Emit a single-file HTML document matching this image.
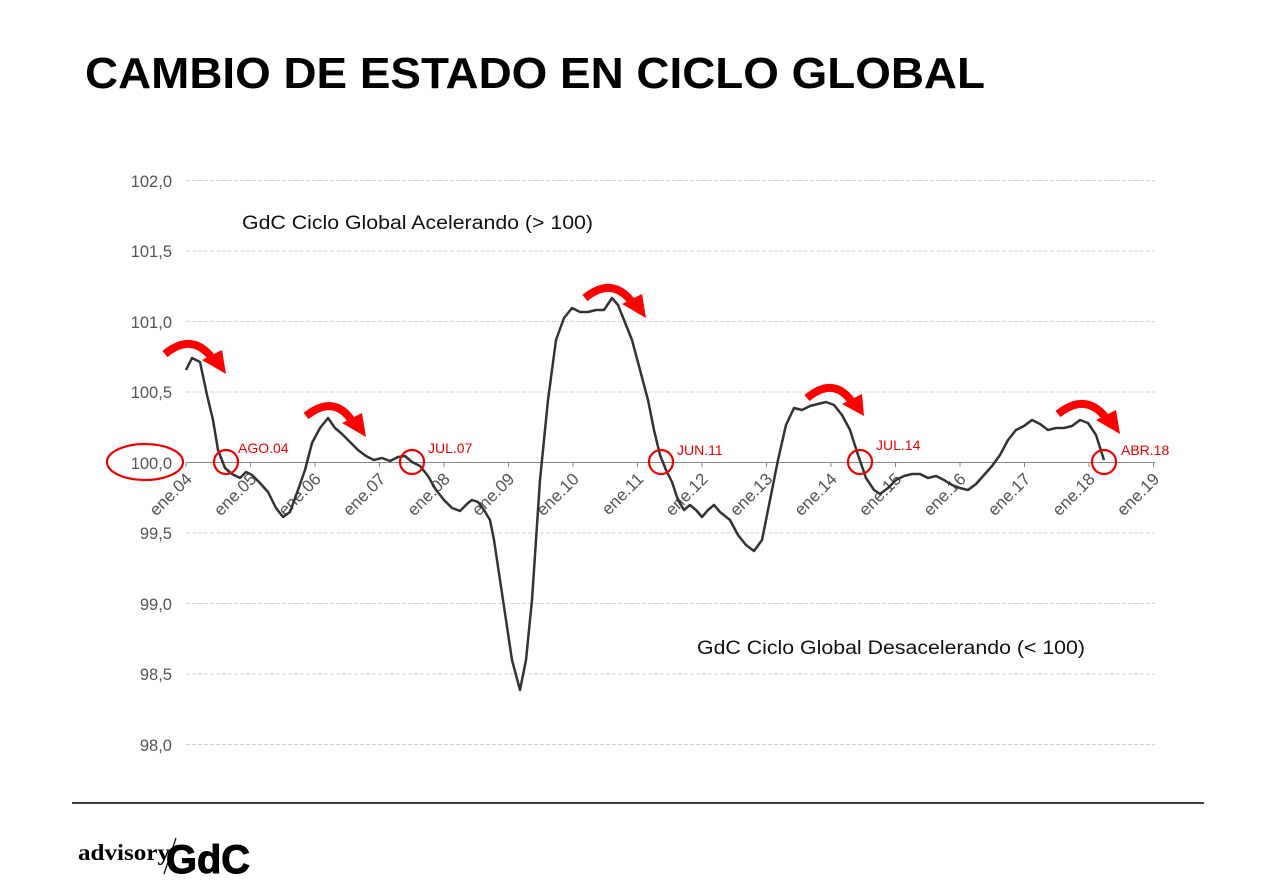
<!DOCTYPE html>
<html><head><meta charset="utf-8"><style>body{margin:0;background:#fff}svg{display:block}</style></head>
<body>
<svg width="1270" height="895" viewBox="0 0 1270 895" xmlns="http://www.w3.org/2000/svg" font-family="Liberation Sans, sans-serif">
<rect width="1270" height="895" fill="#fff"/>
<text x="85" y="88" font-size="44" font-weight="bold" textLength="900" lengthAdjust="spacingAndGlyphs">CAMBIO DE ESTADO EN CICLO GLOBAL</text>
<g stroke="#d4d4d4" stroke-width="1" stroke-dasharray="4,2">
<line x1="186" y1="180.5" x2="1155" y2="180.5"/><line x1="186" y1="251" x2="1155" y2="251"/>
<line x1="186" y1="321.5" x2="1155" y2="321.5"/><line x1="186" y1="392" x2="1155" y2="392"/>
<line x1="186" y1="533" x2="1155" y2="533"/><line x1="186" y1="603.5" x2="1155" y2="603.5"/>
<line x1="186" y1="674" x2="1155" y2="674"/><line x1="186" y1="744.5" x2="1155" y2="744.5"/>
</g>
<line x1="186" y1="462.5" x2="1155" y2="462.5" stroke="#888" stroke-width="1"/>
<g stroke="#888"><line x1="186" y1="462" x2="186" y2="467"/><line x1="250.5" y1="462" x2="250.5" y2="467"/><line x1="315" y1="462" x2="315" y2="467"/><line x1="379.5" y1="462" x2="379.5" y2="467"/><line x1="444" y1="462" x2="444" y2="467"/><line x1="508.5" y1="462" x2="508.5" y2="467"/><line x1="573" y1="462" x2="573" y2="467"/><line x1="637.5" y1="462" x2="637.5" y2="467"/><line x1="702" y1="462" x2="702" y2="467"/><line x1="766.5" y1="462" x2="766.5" y2="467"/><line x1="831" y1="462" x2="831" y2="467"/><line x1="895.5" y1="462" x2="895.5" y2="467"/><line x1="960" y1="462" x2="960" y2="467"/><line x1="1024.5" y1="462" x2="1024.5" y2="467"/><line x1="1089" y1="462" x2="1089" y2="467"/><line x1="1153.5" y1="462" x2="1153.5" y2="467"/></g>
<g font-size="16.5" fill="#555" text-anchor="end">
<text x="172" y="187">102,0</text><text x="172" y="257">101,5</text><text x="172" y="328">101,0</text><text x="172" y="398">100,5</text><text x="172" y="469">100,0</text><text x="172" y="539">99,5</text><text x="172" y="610">99,0</text><text x="172" y="680">98,5</text><text x="172" y="751">98,0</text>
</g>
<g font-size="17" fill="#555" text-anchor="end">
<text transform="translate(193,480) rotate(-45)">ene.04</text><text transform="translate(257.5,480) rotate(-45)">ene.05</text><text transform="translate(322,480) rotate(-45)">ene.06</text><text transform="translate(386.5,480) rotate(-45)">ene.07</text><text transform="translate(451,480) rotate(-45)">ene.08</text><text transform="translate(515.5,480) rotate(-45)">ene.09</text><text transform="translate(580,480) rotate(-45)">ene.10</text><text transform="translate(644.5,480) rotate(-45)">ene.11</text><text transform="translate(709,480) rotate(-45)">ene.12</text><text transform="translate(773.5,480) rotate(-45)">ene.13</text><text transform="translate(838,480) rotate(-45)">ene.14</text><text transform="translate(902.5,480) rotate(-45)">ene.15</text><text transform="translate(967,480) rotate(-45)">ene.16</text><text transform="translate(1031.5,480) rotate(-45)">ene.17</text><text transform="translate(1096,480) rotate(-45)">ene.18</text><text transform="translate(1160.5,480) rotate(-45)">ene.19</text>
</g>
<polyline fill="none" stroke="#333" stroke-width="2.5" stroke-linejoin="round" points="186,370 192,358 200,362 207,395 213,420 218,450 225,468 232,474 240,478 246,472 252,475 260,483 268,492 276,508 283,517 290,512 298,490 305,470 312,443 320,428 328,418 335,428 342,434 350,442 358,450 366,456 374,460 382,458 390,461 398,457 405,456 412,462 420,466 428,476 436,490 444,500 452,508 460,511 468,503 472,500 478,502 484,510 490,520 494,540 500,580 506,620 512,660 520,690 526,660 532,600 540,480 548,400 556,340 564,318 572,308 580,312 588,312 596,310 604,310 612,298 618,305 624,320 632,340 640,370 648,400 654,430 660,455 666,470 672,482 678,500 684,510 690,505 696,510 702,517 708,510 714,505 720,512 730,520 738,535 746,545 754,551 762,540 770,500 778,460 786,425 794,408 802,410 810,406 818,404 826,402 834,405 842,415 850,430 858,455 866,478 874,490 880,494 888,488 896,480 904,476 912,474 920,474 928,478 936,476 944,480 952,485 960,488 968,490 976,484 984,475 992,466 1000,455 1008,440 1016,430 1024,426 1032,420 1040,424 1048,430 1056,428 1064,428 1072,426 1080,420 1088,423 1096,435 1104,460"/>
<g fill="none" stroke="#e00" stroke-width="2.2">
<circle cx="226" cy="462" r="12"/><circle cx="412" cy="462" r="12"/><circle cx="661" cy="462" r="12"/><circle cx="860" cy="462" r="12"/><circle cx="1104" cy="462" r="12"/>
<ellipse cx="145" cy="462" rx="38" ry="18"/>
</g>
<g font-size="14" fill="#e00">
<text x="238" y="453">AGO.04</text><text x="428" y="453">JUL.07</text><text x="677" y="455">JUN.11</text><text x="876" y="450">JUL.14</text><text x="1121" y="455">ABR.18</text>
</g>
<g fill="none" stroke="#f00" stroke-width="8">
<path d="M165,354 Q192,332 212,358"/><path d="M306,416 Q334,394 352,421"/><path d="M585,298 Q612,276 632,302"/><path d="M807,398 Q834,376 852,402"/><path d="M1058,414 Q1086,392 1106,418"/>
</g>
<g fill="#f00">
<polygon points="202,360 222,350 226,374"/><polygon points="342,423 362,413 366,437"/><polygon points="622,304 642,294 646,318"/><polygon points="842,404 862,394 864,416"/><polygon points="1096,420 1116,410 1120,434"/>
</g>
<text x="242" y="229" font-size="19" fill="#111" textLength="351" lengthAdjust="spacingAndGlyphs">GdC Ciclo Global Acelerando (&gt; 100)</text>
<text x="697" y="654" font-size="19" fill="#111" textLength="388" lengthAdjust="spacingAndGlyphs">GdC Ciclo Global Desacelerando (&lt; 100)</text>
<line x1="72" y1="803" x2="1204" y2="803" stroke="#000" stroke-width="1.5"/>
<text x="78" y="860" font-family="Liberation Serif, serif" font-weight="bold" font-size="23" textLength="92" lengthAdjust="spacingAndGlyphs">advisory</text>
<line x1="176" y1="838" x2="164" y2="874" stroke="#000" stroke-width="1.2"/>
<text x="166" y="873" font-weight="bold" font-size="40" textLength="84" lengthAdjust="spacingAndGlyphs" stroke="#000" stroke-width="1">GdC</text>
</svg>
</body></html>
